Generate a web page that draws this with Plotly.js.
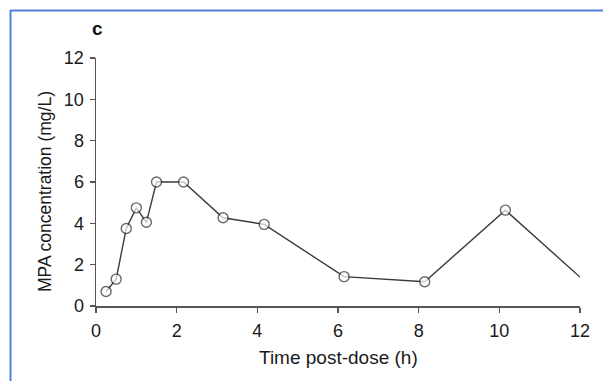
<!DOCTYPE html>
<html>
<head>
<meta charset="utf-8">
<script src="https://cdn.plot.ly/plotly-3.0.1.min.js"></script>
<style>
html,body{margin:0;padding:0;background:#fff;}
#chart{width:603px;height:381px;}
</style>
</head>
<body>
<div id="chart"></div>
<script>
// Data
const timeHours = [0.25, 0.5, 0.75, 1.0, 1.25, 1.5, 2.17, 3.15, 4.17, 6.15, 8.15, 10.15, 12.0];
const mpaConc   = [0.7, 1.3, 3.75, 4.75, 4.05, 6.0, 6.0, 4.27, 3.95, 1.42, 1.17, 4.64, 1.4];
const tickValsX = [0, 2, 4, 6, 8, 10, 12];
const tickValsY = [0, 2, 4, 6, 8, 10, 12];
const panelLabel = "c";
const xTitle = "Time post-dose (h)";
const yTitle = "MPA concentration (mg/L)";

// last sample is only the line running off the axis (no marker drawn)
const markerSizes = mpaConc.map((v, i) => i === mpaConc.length - 1 ? 0 : 10);

const L = 96, R = 23, T = 58, B = 75;
const W = 603, H = 381;
const pw = W - L - R, ph = H - T - B;
const px = v => (v - L) / pw;
const py = v => (H - B - v) / ph;

const trace = {
  x: timeHours,
  y: mpaConc,
  type: 'scatter',
  mode: 'lines+markers',
  line: {color: '#3a3a3a', width: 1.4},
  marker: {size: markerSizes, color: '#ffffff', line: {color: '#2a2a2a', width: 1.4}},
  cliponaxis: false,
  hoverinfo: 'x+y'
};

const axisFont = {family: 'Liberation Sans, Arial, sans-serif', size: 18, color: '#1a1a1a'};

const layout = {
  width: W, height: H,
  margin: {l: L, r: R, t: T, b: B, pad: 0},
  paper_bgcolor: '#fff',
  plot_bgcolor: '#fff',
  showlegend: false,
  xaxis: {
    range: [0, 12], tickvals: tickValsX, ticktext: tickValsX.map(String),
    showline: true, linecolor: '#555', linewidth: 1.5,
    ticks: 'outside', ticklen: 5, tickwidth: 1.2, tickcolor: '#555',
    showgrid: false, zeroline: false, tickfont: axisFont, ticklabelstandoff: 3
  },
  yaxis: {
    range: [0, 12], tickvals: tickValsY, ticktext: tickValsY.map(String),
    showline: true, linecolor: '#555', linewidth: 1.5,
    ticks: 'outside', ticklen: 5, tickwidth: 1.2, tickcolor: '#555',
    showgrid: false, zeroline: false, tickfont: axisFont, ticklabelstandoff: 2
  },
  annotations: [
    {text: '<b>' + panelLabel + '</b>', xref: 'paper', yref: 'paper',
     x: px(97), y: py(28), xanchor: 'center', yanchor: 'middle', showarrow: false,
     font: {family: 'Liberation Sans, Arial, sans-serif', size: 19, color: '#111'}},
    {text: xTitle, xref: 'paper', yref: 'paper',
     x: px(338), y: py(357), xanchor: 'center', yanchor: 'middle', showarrow: false,
     font: {family: 'Liberation Sans, Arial, sans-serif', size: 19, color: '#1a1a1a'}},
    {text: yTitle, xref: 'paper', yref: 'paper', textangle: -90,
     x: px(45), y: py(192), xanchor: 'center', yanchor: 'middle', showarrow: false,
     font: {family: 'Liberation Sans, Arial, sans-serif', size: 17.5, color: '#1a1a1a'}}
  ],
  shapes: [
    {type: 'line', xref: 'paper', yref: 'paper', x0: px(10.5), x1: px(10.5), y0: py(10), y1: py(H + 2),
     line: {color: '#4f82d8', width: 2}},
    {type: 'line', xref: 'paper', yref: 'paper', x0: px(10), x1: px(W + 2), y0: py(10.5), y1: py(10.5),
     line: {color: '#4f82d8', width: 2}}
  ]
};

Plotly.newPlot('chart', [trace], layout, {displayModeBar: false, staticPlot: true});
</script>
</body>
</html>
